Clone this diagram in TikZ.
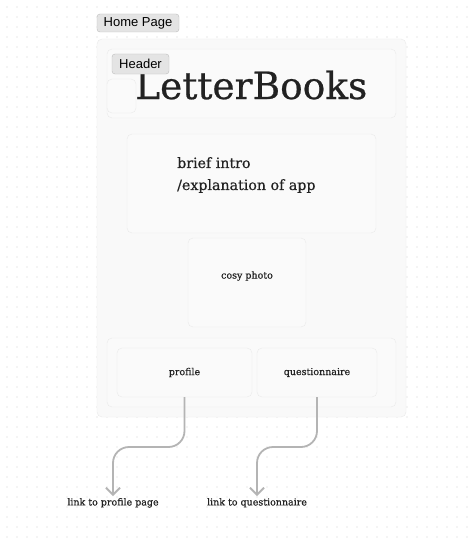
\documentclass[tikz,border=0pt]{standalone}
\usepackage{fontspec}
\setmainfont{DejaVu Serif}[RawFeature={embolden=0.6}]
\newfontfamily\badgefont{Liberation Sans}
\usetikzlibrary{arrows.meta}

\definecolor{dotgrey}{HTML}{D2D2D2}
\definecolor{framefill}{HTML}{F9F9F9}
\definecolor{frameline}{HTML}{EAEAEA}
\definecolor{boxfill}{HTML}{FAFAFA}
\definecolor{badgefill}{HTML}{E4E4E4}
\definecolor{badgeline}{HTML}{BDBDBD}
\definecolor{linkgrey}{HTML}{B4B4B4}
\definecolor{inkgrey}{HTML}{222222}

\tikzset{
	panel/.style={draw=frameline, fill=boxfill, rounded corners=5pt, inner sep=0pt},
	badge/.style={draw=badgeline, fill=badgefill, rounded corners=3pt, inner sep=0pt,
		font=\badgefont\fontsize{13}{15}\selectfont, text=black},
	smalltext/.style={font=\fontsize{9.5}{11}\selectfont, text=inkgrey, inner sep=0pt},
	link/.style={draw=linkgrey, line width=1.8pt, rounded corners=16pt,
		-{Straight Barb[length=7pt,width=14pt]}, shorten >=2pt}
}

\begin{document}
\begin{tikzpicture}[x=1pt,y=-1pt]
		\useasboundingbox (0,0) rectangle (472,543);
		\fill[white] (0,0) rectangle (472,543);
		
		% Dot grid
		\foreach \i in {0,...,46}
			\foreach \j in {0,...,53}
				\fill[dotgrey] (7+10*\i,7+10*\j) circle (0.7);
		
		% Page frame
		\node[panel, fill=framefill, minimum width=309pt, minimum height=378pt] (page) at (251.5,228) {};
		\node[badge, minimum width=82pt, minimum height=18pt] (pagetag) at (138,23) {Home Page};
		
		% Header
		\node[panel, minimum width=289pt, minimum height=69pt] (header) at (251.5,83.5) {};
		\node[panel, minimum width=29pt, minimum height=34pt] (logo) at (121.5,96) {};
		\node[anchor=base west, inner sep=0pt, text=inkgrey, font=\fontsize{37.5}{40}\selectfont] (title) at (135,99) {LetterBooks};
		\node[badge, minimum width=57pt, minimum height=20pt] (headertag) at (140.5,64) {Header};
		
		% Intro and photo
		\node[panel, minimum width=249pt, minimum height=99pt] (intro) at (251.5,183.5) {};
		\node[anchor=north west, inner sep=0pt, align=left, text=inkgrey, font=\fontsize{14.2}{22}\selectfont] (introtext) at (177,157) {brief intro\\/explanation of app};
		\node[panel, minimum width=118pt, minimum height=89pt] (photo) at (247,282.5) {};
		\node[smalltext] (photocap) at (247,276) {cosy photo};
		
		% Footer buttons
		\node[panel, minimum width=289pt, minimum height=69pt] (footer) at (251.5,372.5) {};
		\node[panel, smalltext, minimum width=135pt, minimum height=49pt] (profile) at (184.5,372.5) {profile};
		\node[panel, smalltext, minimum width=120pt, minimum height=49pt] (quest) at (317,372.5) {questionnaire};
		
		% Link targets
		\node[smalltext, anchor=north] (toprofile) at (113,498) {link to profile page};
		\node[smalltext, anchor=north] (toquest) at (257,498) {link to questionnaire};
		\coordinate (bend) at (0,447);
		
		% Links
		\draw[link] (profile.south) -- (profile.south |- bend) -- (toprofile.north |- bend) -- (toprofile.north);
		\draw[link] (quest.south) -- (quest.south |- bend) -- (toquest.north |- bend) -- (toquest.north);
		
	\end{tikzpicture}
\end{document}
